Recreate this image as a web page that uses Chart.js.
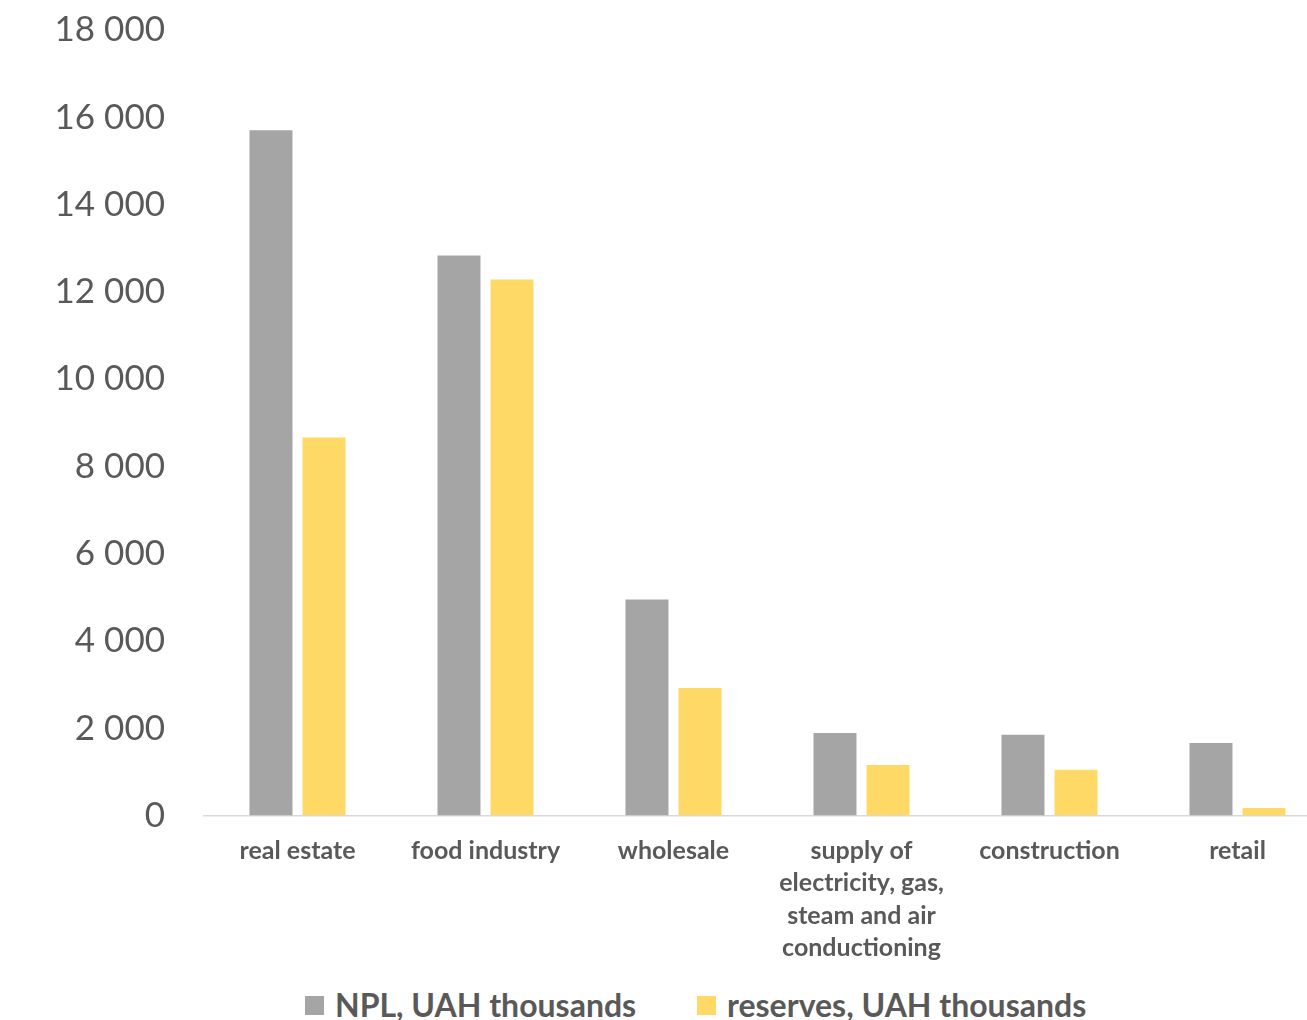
<!DOCTYPE html>
<html>
<head>
<meta charset="utf-8">
<title>NPL and reserves by industry</title>
<script src="https://cdn.jsdelivr.net/npm/chart.js@4.4.1/dist/chart.umd.min.js"></script>
<style>
  html, body { margin: 0; padding: 0; background: #fff; overflow: hidden; }
  #wrap { position: relative; width: 1307px; height: 1020px; overflow: hidden; }
  /* canvas is a bit wider than the page, last group runs off the edge */
  #box { position: absolute; left: 0; top: 0; width: 1335px; height: 985px; }
  .leg { position: absolute; top: 987px; font: bold 32px Lato, sans-serif; color: #595959;
         display: flex; align-items: center; white-space: nowrap; line-height: 36px; }
  .leg i { display: inline-block; width: 19px; height: 19px; margin-right: 11px; }
</style>
</head>
<body>
<div id="wrap">
  <div id="box"><canvas id="bars"></canvas></div>
  <div class="leg" style="left:305px"><i style="background:#A5A5A5"></i>NPL, UAH thousands</div>
  <div class="leg" style="left:697px"><i style="background:#FFD966"></i>reserves, UAH thousands</div>
</div>
<script>
const categories = [
  'real estate',
  'food industry',
  'wholesale',
  ['supply of', 'electricity, gas,', 'steam and air', 'conductioning'],
  'construction',
  'retail'
]
const npl = [15700, 12830, 4950, 1890, 1850, 1660]
const reserves = [8660, 12280, 2920, 1160, 1050, 170]
const seriesNames = ['NPL, UAH thousands', 'reserves, UAH thousands']

// 18000 -> "18 000"
function spaced(v) {
  return String(v).replace(/\B(?=(\d{3})+(?!\d))/g, ' ')
}

Chart.defaults.font.family = 'Lato, sans-serif'
Chart.defaults.color = '#595959'

new Chart(document.getElementById('bars'), {
  type: 'bar',
  data: {
    labels: categories,
    datasets: [
      { label: seriesNames[0], data: npl, backgroundColor: '#A5A5A5' },
      { label: seriesNames[1], data: reserves, backgroundColor: '#FFD966' }
    ]
  },
  options: {
    responsive: true,
    maintainAspectRatio: false,
    animation: false,
    categoryPercentage: 0.564,
    barPercentage: 0.811,
    layout: { padding: { top: 30, left: 0, right: 3.5, bottom: 0 } },
    plugins: {
      legend: { display: false },
      tooltip: { enabled: false }
    },
    scales: {
      y: {
        min: 0,
        max: 18000,
        grid: { display: false, drawTicks: false },
        border: { display: false },
        ticks: {
          stepSize: 2000,
          padding: 38.5,
          font: { size: 35 },
          color: '#595959',
          callback: v => spaced(v)
        },
        afterFit: s => {
          s.width = 203.5
          // tick padding would otherwise push the plot top down
          s.paddingTop = 0
          s.paddingBottom = 0
        }
      },
      x: {
        grid: { display: false, drawTicks: false },
        border: { display: true, color: '#D9D9D9', width: 1.5 },
        ticks: {
          autoSkip: false,
          maxRotation: 0,
          padding: 19,
          font: { size: 25, weight: 'bold', lineHeight: 1.3 },
          color: '#595959'
        },
        afterFit: s => { s.height = 169.5 }
      }
    }
  }
})
</script>
</body>
</html>
